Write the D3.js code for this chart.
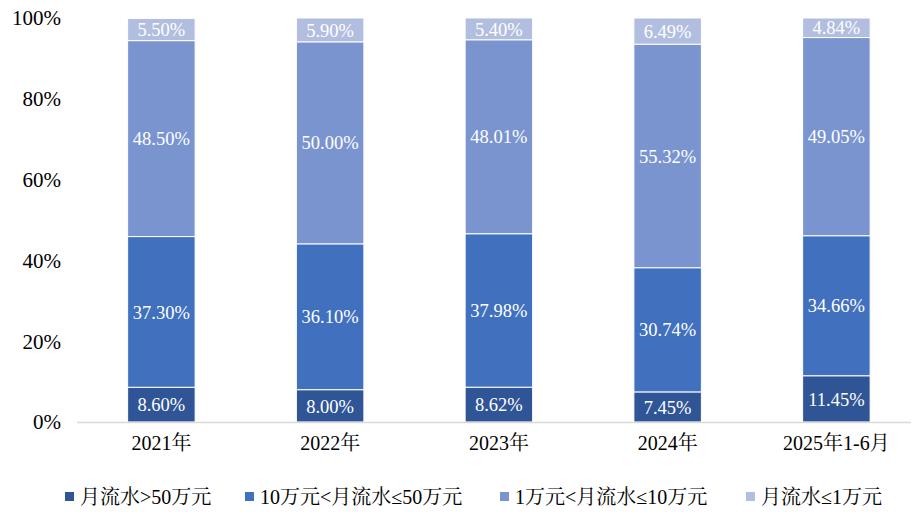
<!DOCTYPE html>
<html>
<head>
<meta charset="utf-8">
<script src="https://cdn.jsdelivr.net/npm/d3@7"></script>
<style>
  body { margin: 0; background: #fff; }
  svg text { font-family: "Liberation Serif", "Noto Serif CJK SC", "Noto Sans CJK SC", serif; }
</style>
</head>
<body>
<div id="chart"></div>
<script>
// categories and series (percent)
const years = ["2021年", "2022年", "2023年", "2024年", "2025年1-6月"];
const seriesNames = ["月流水>50万元", "10万元<月流水≤50万元", "1万元<月流水≤10万元", "月流水≤1万元"];
const over50 = [8.60, 8.00, 8.62, 7.45, 11.45];
const from10to50 = [37.30, 36.10, 37.98, 30.74, 34.66];
const from1to10 = [48.50, 50.00, 48.01, 55.32, 49.05];
const under1 = [5.50, 5.90, 5.40, 6.49, 4.84];
const yTicks = [0, 20, 40, 60, 80, 100];

const colors = ["#2F5597", "#4070BE", "#7A94D0", "#B2BEE0"];
const allSeries = [over50, from10to50, from1to10, under1];

const W = 912, H = 512;
const margin = {top: 18, right: 0, bottom: 90, left: 77};

const svg = d3.select("#chart").append("svg")
    .attr("width", W)
    .attr("height", H);

// stack table built from the arrays
const table = years.map((y, i) => {
    let row = {year: y};
    seriesNames.forEach((s, k) => { row[s] = allSeries[k][i]; });
    return row;
});
const stacked = d3.stack().keys(seriesNames)(table);

const x = d3.scaleBand()
    .domain(years)
    .range([margin.left, margin.left + 5 * 168.75])
    .paddingInner(0.6)
    .paddingOuter(0.3);

const y = d3.scaleLinear()
    .domain([0, 100])
    .range([422, 18]);

// y axis labels
svg.append("g")
    .selectAll("text")
    .data(yTicks)
    .join("text")
    .attr("x", 61)
    .attr("y", d => y(d))
    .attr("dy", "0.35em")
    .attr("text-anchor", "end")
    .attr("font-size", 21)
    .attr("fill", "#000")
    .text(d => d + "%");

// bars
const groups = svg.append("g")
    .selectAll("g")
    .data(stacked)
    .join("g")
    .attr("fill", (d, i) => colors[i]);

groups.selectAll("rect")
    .data(d => d)
    .join("rect")
    .attr("x", d => x(d.data.year))
    .attr("width", x.bandwidth())
    .attr("y", d => y(d[1]))
    .attr("height", d => y(d[0]) - y(d[1]))
    .attr("stroke", "#fff")
    .attr("stroke-width", 1);

// value labels
groups.selectAll("text")
    .data(d => d.map(v => ({v: v, key: d.key})))
    .join("text")
    .attr("x", d => x(d.v.data.year) + x.bandwidth() / 2)
    .attr("y", d => (y(d.v[0]) + y(d.v[1])) / 2)
    .attr("dy", "0.36em")
    .attr("text-anchor", "middle")
    .attr("font-size", 18.5)
    .attr("fill", "#fff")
    .text(d => d.v.data[d.key].toFixed(2) + "%");

// x axis line
svg.append("line")
    .attr("x1", margin.left)
    .attr("x2", 911)
    .attr("y1", y(0) + 0.5)
    .attr("y2", y(0) + 0.5)
    .attr("stroke", "#d9d9d9")
    .attr("stroke-width", 1.5);

// category labels
svg.append("g")
    .selectAll("text")
    .data(years)
    .join("text")
    .attr("x", d => x(d) + x.bandwidth() / 2)
    .attr("y", 450)
    .attr("text-anchor", "middle")
    .attr("font-size", 20)
    .attr("fill", "#000")
    .text(d => d);

// legend
const legendX = [65, 245, 500, 746];
const legend = svg.append("g")
    .selectAll("g")
    .data(seriesNames)
    .join("g")
    .attr("transform", (d, i) => "translate(" + legendX[i] + ",497)");

legend.append("rect")
    .attr("x", 0)
    .attr("y", -5)
    .attr("width", 9)
    .attr("height", 9)
    .attr("fill", (d, i) => colors[i]);

legend.append("text")
    .attr("x", 15)
    .attr("y", 0)
    .attr("dy", "0.36em")
    .attr("font-size", 20)
    .attr("fill", "#000")
    .text(d => d);
</script>
</body>
</html>
